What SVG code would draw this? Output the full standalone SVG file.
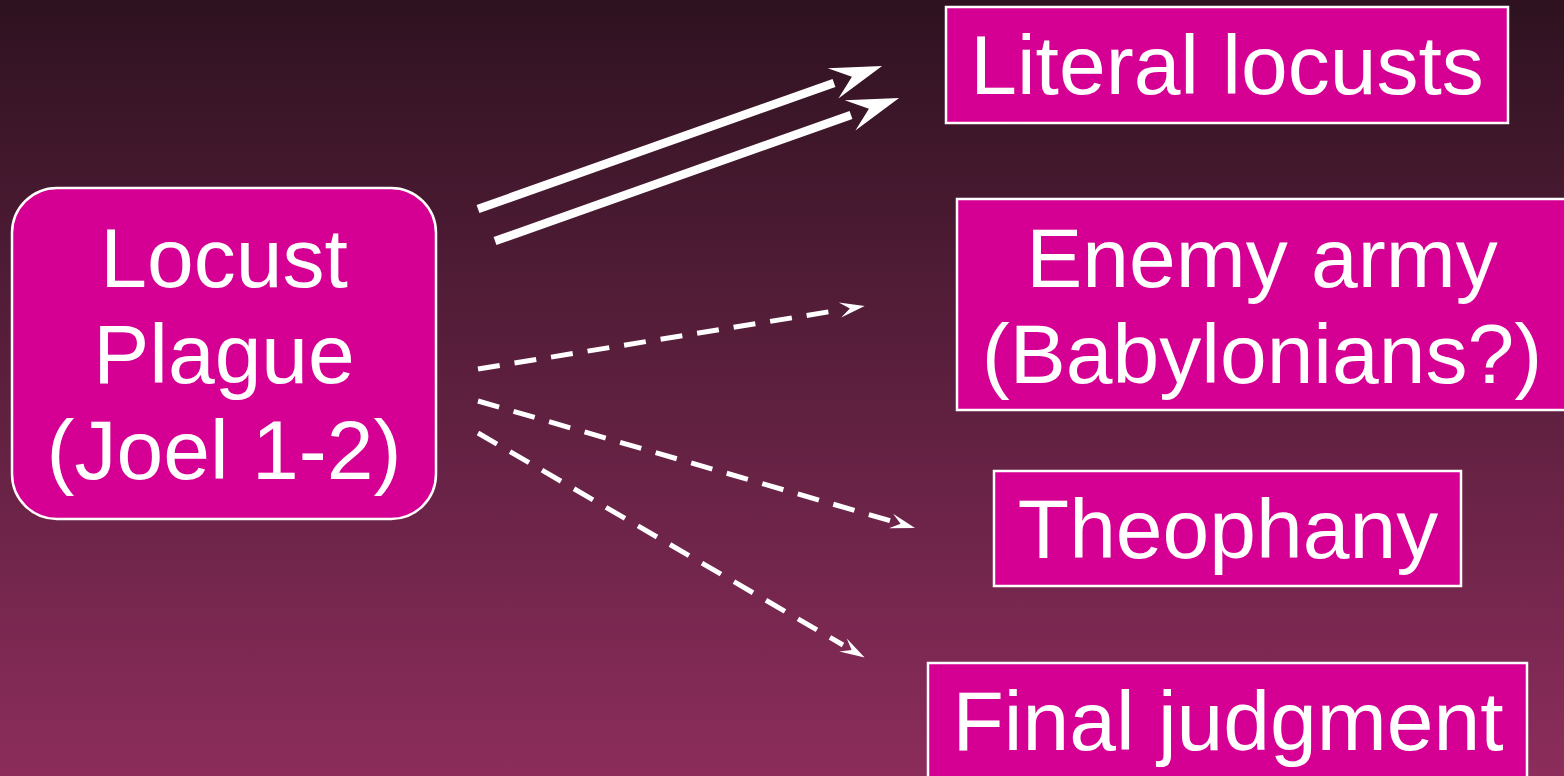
<svg xmlns="http://www.w3.org/2000/svg" width="1564" height="776" viewBox="0 0 1564 776">
<defs>
<linearGradient id="bg" x1="0" y1="0" x2="0" y2="1">
<stop offset="0" stop-color="#2e1220"/>
<stop offset="1" stop-color="#8c2d5c"/>
</linearGradient>
<marker id="bigHead" markerUnits="userSpaceOnUse" viewBox="-4 -20 60 40" refX="0" refY="0" markerWidth="60" markerHeight="40" orient="auto" overflow="visible">
<path d="M51,0 L-1,-16 L19,0 L-1,16 Z" fill="#ffffff"/>
</marker>
<marker id="smallHead" markerUnits="userSpaceOnUse" viewBox="-4 -10 32 20" refX="0" refY="0" markerWidth="32" markerHeight="20" orient="auto" overflow="visible">
<path d="M25,0 L0,-7.5 L10,0 L0,7.5 Z" fill="#ffffff"/>
</marker>
<style>
.box{fill:#d50093;stroke:#ffffff;stroke-width:2.5}
.lbl{font-family:"Liberation Sans",Arial,sans-serif;font-size:84px;fill:#ffffff;text-anchor:middle}
.solid{stroke:#ffffff;stroke-width:8.5;fill:none}
.dash{stroke:#ffffff;stroke-width:5;fill:none;stroke-dasharray:22 15}
</style>
</defs>
<rect x="0" y="0" width="1564" height="776" fill="url(#bg)"/>
<g id="connectors">
<line class="solid" x1="478" y1="209" x2="834" y2="83" marker-end="url(#bigHead)"/>
<line class="solid" x1="495" y1="241" x2="851" y2="115" marker-end="url(#bigHead)"/>
<line class="dash" x1="478" y1="369" x2="840" y2="310" marker-end="url(#smallHead)"/>
<line class="dash" x1="478" y1="401" x2="891" y2="521" marker-end="url(#smallHead)"/>
<line class="dash" x1="478" y1="433" x2="843" y2="645" marker-end="url(#smallHead)"/>
</g>
<g id="locust-plague">
<rect class="box" x="12" y="188" width="424" height="331" rx="45" ry="45"/>
<text class="lbl" x="224" y="287">Locust</text>
<text class="lbl" x="224" y="383">Plague</text>
<text class="lbl" x="224" y="479">(Joel 1-2)</text>
</g>
<g id="literal-locusts">
<rect class="box" x="946" y="7" width="562" height="116"/>
<text class="lbl" x="1227" y="94">Literal locusts</text>
</g>
<g id="enemy-army">
<rect class="box" x="957" y="199" width="620" height="211"/>
<text class="lbl" x="1262" y="287">Enemy army</text>
<text class="lbl" x="1262" y="383">(Babylonians?)</text>
</g>
<g id="theophany">
<rect class="box" x="994" y="471" width="467" height="115"/>
<text class="lbl" x="1228" y="558">Theophany</text>
</g>
<g id="final-judgment">
<rect class="box" x="928" y="663" width="599" height="130"/>
<text class="lbl" x="1228" y="750">Final judgment</text>
</g>
</svg>
